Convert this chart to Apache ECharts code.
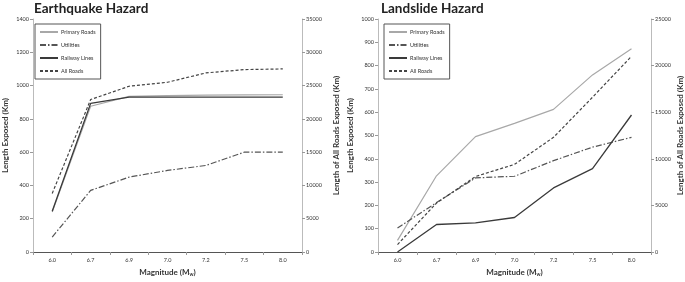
<!DOCTYPE html>
<html><head><meta charset="utf-8">
<script src="https://cdn.jsdelivr.net/npm/echarts@6/dist/echarts.min.js"></script>
<style>html,body{margin:0;padding:0;background:#fff}#c{width:685px;height:282px}</style>
</head><body><div id="c"></div>
<script>
var categories = ['6.0','6.7','6.9','7.0','7.2','7.5','8.0'];
var seriesNames = ['Primary Roads','Utilities','Railway Lines','All Roads'];
// Earthquake hazard
var eqPrimary   = [240, 876, 935, 940, 942, 944, 945];
var eqUtilities = [90, 370, 450, 490, 520, 600, 600];
var eqRailway   = [245, 893, 930, 930, 930, 930, 930];
var eqAllRoads  = [8800, 22900, 24900, 25500, 26900, 27400, 27500];
// Landslide hazard
var lsPrimary   = [50, 327, 495, 552, 612, 760, 872];
var lsUtilities = [103, 212, 318, 325, 392, 450, 492];
var lsRailway   = [0, 118, 125, 148, 275, 358, 588];
var lsAllRoads  = [800, 5250, 8100, 9400, 12300, 16600, 21000];
// axis ticks
var eqLeftMax = 1400, eqLeftStep = 200, eqRightMax = 35000, eqRightStep = 5000;
var lsLeftMax = 1000, lsLeftStep = 100, lsRightMax = 25000, lsRightStep = 5000;

var FONT = 'Lato';
var lbl = {fontSize: 5.5, color: '#333', fontFamily: FONT, formatter: function (v) { return String(v); }};
var styles = [
  {color: '#a8a8a8', width: 1.2, type: 'solid'},
  {color: '#555', width: 1.2, type: [6, 2, 1.5, 2]},
  {color: '#3a3a3a', width: 1.3, type: 'solid'},
  {color: '#444', width: 1.2, type: [3, 2]}
];

function xAx(gi) {
  return [{
    gridIndex: gi, type: 'category', data: categories, boundaryGap: true,
    axisLine: {lineStyle: {color: '#999', width: 1}},
    axisTick: {show: true, length: 3, lineStyle: {color: '#999'}},
    axisLabel: {margin: 5, fontSize: 5.5, color: '#333', fontFamily: FONT},
    name: 'Magnitude (M{s|w})', nameLocation: 'middle', nameGap: 16,
    nameTextStyle: {fontSize: 8, fontWeight: 'bold', color: '#333', fontFamily: FONT,
      rich: {s: {fontSize: 5, fontWeight: 'bold', color: '#333', fontFamily: FONT, verticalAlign: 'bottom', padding: [4,0,0,0]}}}
  }, {
    gridIndex: gi, type: 'category', data: categories, position: 'top',
    axisLine: {lineStyle: {color: '#555', width: 1.2}},
    axisTick: {show: false}, axisLabel: {show: false}
  }];
}
function yAx(gi, max, step, pos, name, gap) {
  return {
    gridIndex: gi, type: 'value', min: 0, max: max, interval: step, position: pos,
    splitLine: {show: false},
    axisLine: {show: true, lineStyle: {color: '#bbb', width: 1}},
    axisTick: {show: true, length: 3, lineStyle: {color: '#999'}},
    axisLabel: Object.assign({margin: 4}, lbl),
    name: name, nameLocation: 'middle', nameGap: gap, nameRotate: 90,
    nameTextStyle: {fontSize: 8, fontWeight: 'bold', color: '#333', fontFamily: FONT}
  };
}
function mkSeries(xi, yl, yr, arrs) {
  return arrs.map(function (d, i) {
    return {
      name: seriesNames[i], type: 'line', data: d, xAxisIndex: xi,
      yAxisIndex: i === 3 ? yr : yl, symbol: 'none', showSymbol: false,
      lineStyle: styles[i], itemStyle: {color: styles[i].color}, z: 3 - (i===0?1:0), animation: false
    };
  });
}
function legendAt(left, top) {
  return {
    left: left, top: top, orient: 'vertical', data: seriesNames,
    backgroundColor: '#fff', borderColor: '#555', borderWidth: 1,
    padding: [5, 5, 5, 4], itemGap: 7, itemWidth: 18, itemHeight: 6,
    itemStyle: {opacity: 0},
    textStyle: {fontSize: 5.5, color: '#333', fontFamily: FONT, padding: [0,0,0,-2]},
    selectedMode: false
  };
}

var chart = echarts.init(document.getElementById('c'), null, {renderer: 'canvas'});
chart.setOption({
  backgroundColor: '#fff',
  animation: false,
  title: [
    {text: 'Earthquake Hazard', left: 29, top: -3, textStyle: {fontSize: 13.5, fontWeight: 'bold', color: '#222', fontFamily: FONT}},
    {text: 'Landslide Hazard', left: 376, top: -3, textStyle: {fontSize: 13.5, fontWeight: 'bold', color: '#222', fontFamily: FONT}}
  ],
  legend: [legendAt(35, 24), legendAt(384, 24)],
  grid: [
    {left: 30, right: 383, top: 19, bottom: 24},
    {left: 378, right: 32, top: 19, bottom: 24}
  ],
  xAxis: xAx(0).concat(xAx(1)),
  yAxis: [
    yAx(0, eqLeftMax, eqLeftStep, 'left', 'Length Exposed (Km)', 24),
    yAx(0, eqRightMax, eqRightStep, 'right', 'Length of All Roads Exposed (Km)', 30),
    yAx(1, lsLeftMax, lsLeftStep, 'left', 'Length Exposed (Km)', 24),
    yAx(1, lsRightMax, lsRightStep, 'right', 'Length of All Roads Exposed (Km)', 25)
  ],
  series: mkSeries(0, 0, 1, [eqPrimary, eqUtilities, eqRailway, eqAllRoads])
    .concat(mkSeries(2, 2, 3, [lsPrimary, lsUtilities, lsRailway, lsAllRoads]))
});
</script>
</body></html>
